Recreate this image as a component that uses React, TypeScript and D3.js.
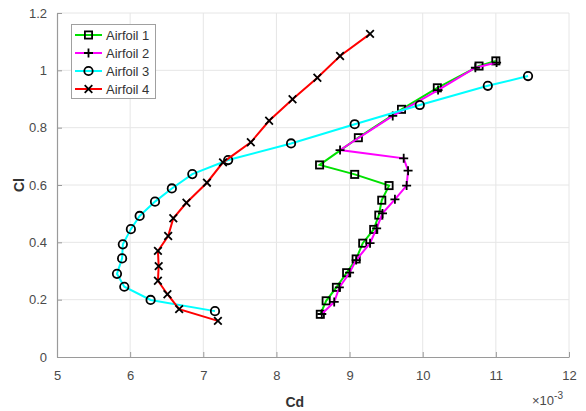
import { useRef, useEffect } from 'react'
import * as d3 from 'd3'

// Cd values are in units of 1e-3
const airfoil1Cd = [8.60, 8.68, 8.82, 8.96, 9.09, 9.18, 9.33, 9.40, 9.44, 9.54, 9.07, 8.59, 9.12, 9.71, 10.20, 10.77, 11.00]
const airfoil1Cl = [0.149, 0.196, 0.243, 0.294, 0.342, 0.397, 0.445, 0.495, 0.547, 0.598, 0.637, 0.670, 0.765, 0.864, 0.939, 1.015, 1.033]

const airfoil2Cd = [8.62, 8.79, 8.86, 9.00, 9.09, 9.28, 9.37, 9.45, 9.62, 9.78, 9.80, 9.74, 8.87, 9.59, 10.21, 10.72, 11.01]
const airfoil2Cl = [0.150, 0.192, 0.243, 0.294, 0.338, 0.397, 0.449, 0.501, 0.550, 0.598, 0.650, 0.693, 0.722, 0.841, 0.931, 1.009, 1.027]

const airfoil3Cd = [7.16, 6.28, 5.92, 5.82, 5.89, 5.90, 6.01, 6.13, 6.34, 6.57, 6.85, 7.34, 8.20, 9.07, 9.96, 10.89, 11.44]
const airfoil3Cl = [0.160, 0.199, 0.245, 0.290, 0.344, 0.393, 0.446, 0.492, 0.542, 0.588, 0.638, 0.687, 0.745, 0.812, 0.879, 0.946, 0.980]

const airfoil4Cd = [7.20, 6.67, 6.51, 6.38, 6.39, 6.38, 6.52, 6.59, 6.77, 7.05, 7.27, 7.65, 7.90, 8.22, 8.56, 8.87, 9.28]
const airfoil4Cl = [0.126, 0.167, 0.219, 0.266, 0.317, 0.370, 0.422, 0.484, 0.538, 0.608, 0.679, 0.749, 0.824, 0.899, 0.974, 1.050, 1.127]

const seriesNames = ['Airfoil 1', 'Airfoil 2', 'Airfoil 3', 'Airfoil 4']
const seriesColors = ['#00e000', '#ff00ff', '#00ffff', '#ff0000']
const seriesMarkers = ['square', 'plus', 'circle', 'cross']

const xTicks = [5, 6, 7, 8, 9, 10, 11, 12]
const yTicks = [0, 0.2, 0.4, 0.6, 0.8, 1, 1.2]

const W = 586
const H = 411
const margin = { left: 57, right: 17, top: 13, bottom: 54 }

export default function App() {
  const svgRef = useRef<SVGSVGElement | null>(null)

  useEffect(() => {
    if (!svgRef.current) return
    const svg = d3.select(svgRef.current)
    svg.selectAll('*').remove()

    const bw = W - margin.left - margin.right
    const bh = H - margin.top - margin.bottom
    const g = svg.append('g').attr('transform', `translate(${margin.left},${margin.top})`)

    const x = d3.scaleLinear().domain([5, 12]).range([0, bw])
    const y = d3.scaleLinear().domain([0, 1.2]).range([bh, 0])

    const font = 'Liberation Sans, Arial, sans-serif'
    const textColor = '#4a4a4a'

    // grid
    g.append('g')
      .selectAll('line')
      .data(xTicks.slice(1))
      .join('line')
      .attr('x1', (d) => x(d)).attr('x2', (d) => x(d))
      .attr('y1', 0).attr('y2', bh)
      .attr('stroke', '#e6e6e6').attr('stroke-width', 1)
    g.append('g')
      .selectAll('line')
      .data(yTicks.slice(1))
      .join('line')
      .attr('x1', 0).attr('x2', bw)
      .attr('y1', (d) => y(d)).attr('y2', (d) => y(d))
      .attr('stroke', '#e6e6e6').attr('stroke-width', 1)

    // axes, ticks pointing inward
    const xAxis = g.append('g')
      .attr('transform', `translate(0,${bh})`)
      .call(d3.axisBottom(x).tickValues(xTicks).tickSizeInner(-5).tickSizeOuter(0).tickPadding(14).tickFormat(d3.format('d')))
    const yAxis = g.append('g')
      .call(d3.axisLeft(y).tickValues(yTicks).tickSizeInner(-5).tickSizeOuter(0).tickPadding(10).tickFormat((d) => String(d)))
    ;[xAxis, yAxis].forEach((a) => {
      a.select('.domain').attr('stroke', '#9a9a9a').attr('stroke-width', 1.2)
      a.selectAll('.tick line').attr('stroke', '#9a9a9a')
      a.selectAll('text').attr('fill', textColor).style('font-family', font).style('font-size', '13px')
    })

    // axis labels
    svg.append('text')
      .attr('x', margin.left + x(8.25))
      .attr('y', 407)
      .attr('text-anchor', 'middle')
      .style('font-family', font).style('font-size', '14px').style('font-weight', 'bold')
      .attr('fill', '#333')
      .text('Cd')
    svg.append('text')
      .attr('transform', `translate(24,${margin.top + y(0.6)}) rotate(-90)`)
      .attr('text-anchor', 'middle')
      .style('font-family', font).style('font-size', '14px').style('font-weight', 'bold')
      .attr('fill', '#333')
      .text('Cl')
    const exp = svg.append('text')
      .attr('x', 532).attr('y', 405)
      .style('font-family', font).style('font-size', '13px')
      .attr('fill', textColor)
    exp.append('tspan').text('\u00d710')
    exp.append('tspan').attr('dy', -6).style('font-size', '10px').text('-3')

    const cds = [airfoil1Cd, airfoil2Cd, airfoil3Cd, airfoil4Cd]
    const cls = [airfoil1Cl, airfoil2Cl, airfoil3Cl, airfoil4Cl]

    const drawMarker = (sel: any, kind: string, cx: number, cy: number) => {
      const s = 3.6
      if (kind === 'square') {
        sel.append('rect').attr('x', cx - s).attr('y', cy - s).attr('width', 2 * s).attr('height', 2 * s)
          .attr('fill', 'none').attr('stroke', '#000').attr('stroke-width', 1.8)
      } else if (kind === 'circle') {
        sel.append('circle').attr('cx', cx).attr('cy', cy).attr('r', 4.2)
          .attr('fill', 'none').attr('stroke', '#000').attr('stroke-width', 1.8)
      } else if (kind === 'plus') {
        sel.append('path').attr('d', `M${cx - 4.5},${cy}H${cx + 4.5}M${cx},${cy - 4.5}V${cy + 4.5}`)
          .attr('stroke', '#000').attr('stroke-width', 1.8)
      } else {
        sel.append('path').attr('d', `M${cx - 3.8},${cy - 3.8}L${cx + 3.8},${cy + 3.8}M${cx - 3.8},${cy + 3.8}L${cx + 3.8},${cy - 3.8}`)
          .attr('stroke', '#000').attr('stroke-width', 1.8)
      }
    }

    cds.forEach((cd, i) => {
      const pts = cd.map((v, k) => [x(v), y(cls[i][k])] as [number, number])
      g.append('path')
        .attr('d', d3.line()(pts))
        .attr('fill', 'none')
        .attr('stroke', seriesColors[i])
        .attr('stroke-width', 2)
      const mg = g.append('g')
      pts.forEach(([px, py]) => drawMarker(mg, seriesMarkers[i], px, py))
    })

    // legend
    const lg = svg.append('g')
    lg.append('rect')
      .attr('x', 71.5).attr('y', 24.5).attr('width', 84).attr('height', 74)
      .attr('fill', '#fff').attr('stroke', '#a0a0a0').attr('stroke-width', 1)
    seriesNames.forEach((name, i) => {
      const ly = 35 + i * 18
      lg.append('line').attr('x1', 75).attr('x2', 102).attr('y1', ly).attr('y2', ly)
        .attr('stroke', seriesColors[i]).attr('stroke-width', 2)
      drawMarker(lg, seriesMarkers[i], 88.5, ly)
      lg.append('text').attr('x', 106).attr('y', ly + 4.5)
        .style('font-family', font).style('font-size', '13px')
        .attr('fill', '#333')
        .text(name)
    })
  }, [])

  return (
    <div style={{ position: 'fixed', left: 0, top: 0 }}>
      <svg ref={svgRef} width={W} height={H} style={{ display: 'block', background: '#fff' }} />
    </div>
  )
}
